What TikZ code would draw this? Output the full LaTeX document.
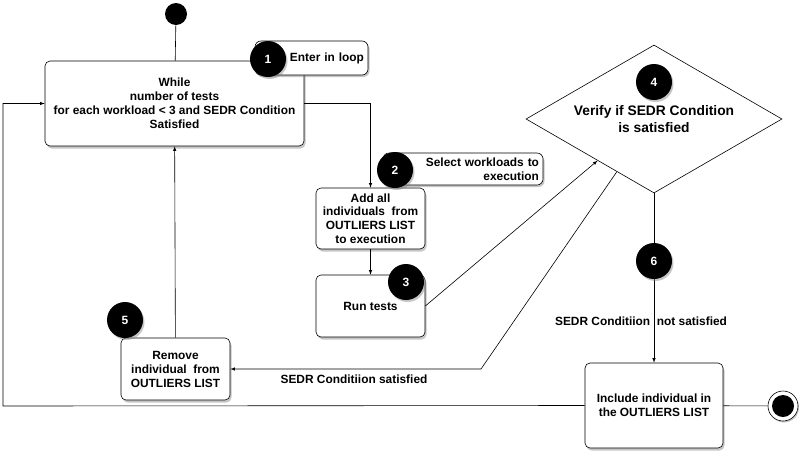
\documentclass[tikz,border=0pt]{standalone}
\usepackage{fontspec}
\setmainfont{Liberation Sans}
\usetikzlibrary{shapes.geometric,shadows,calc}

\begin{document}
\begin{tikzpicture}[->,>=latex,x=1pt,y=-1pt,line width=0.6pt,font=\bfseries\fontsize{11.9}{14}\selectfont]
			\tikzstyle{activity} = [rectangle,draw,fill=white,rounded corners=5pt,align=center,inner sep=2pt,drop shadow={shadow xshift=1.5pt,shadow yshift=-2.5pt,opacity=0.45}]
			\tikzstyle{note} = [rectangle,draw,fill=white,rounded corners=6pt,align=right,inner xsep=4pt,inner ysep=0pt,drop shadow={shadow xshift=1.5pt,shadow yshift=-2pt,opacity=0.45}]
			\tikzstyle{stepmark} = [circle,fill=black,text=white,minimum size=36pt,inner sep=0pt,font=\bfseries\fontsize{12}{14}\selectfont,drop shadow={shadow xshift=1.5pt,shadow yshift=-2pt,opacity=0.45}]
			
			\useasboundingbox (0,0) rectangle (810,464);
			
			\node[circle,fill=black,minimum size=22pt,inner sep=0pt] (start) at (176,14) {};
			\node[activity,minimum width=259pt,minimum height=85pt] (while) at (174.5,103.5) {While\\number of tests\\for each workload < 3 and SEDR Condition\\Satisfied};
			\node[note,text width=105pt,minimum height=34pt] (note1) at (311.5,58) {Enter in loop};
			\node[activity,minimum width=109pt,minimum height=61pt,font=\bfseries\fontsize{11.9}{13.7}\selectfont] (add) at (370.5,218.5) {Add all\\individuals\ \ from\\OUTLIERS LIST\\to execution};
			\node[note,text width=152pt,minimum height=32pt,font=\bfseries\fontsize{11.9}{13.5}\selectfont] (note2) at (463,169) {Select workloads to\\execution};
			\node[activity,minimum width=109pt,minimum height=62pt] (run) at (370.5,306) {Run tests};
			\node[diamond,aspect=1.73,draw,fill=white,minimum width=256pt,minimum height=148pt,inner sep=0pt,font=\bfseries\fontsize{13.8}{17}\selectfont,align=center] (dia) at (654,119) {Verify if SEDR Condition\\is satisfied};
			\node[activity,minimum width=109pt,minimum height=62pt] (remove) at (175.5,369) {Remove\\individual\ \ from\\OUTLIERS LIST};
			\node[activity,minimum width=138pt,minimum height=85pt] (include) at (654,405.5) {Include individual in\\the OUTLIERS LIST};
			\node[circle,draw,fill=white,minimum size=30pt,inner sep=0pt,drop shadow={shadow xshift=1pt,shadow yshift=-1.5pt,opacity=0.45}] (finish) at (783,406) {};
			\node[circle,fill=black,minimum size=22pt,inner sep=0pt] (finishdot) at (finish) {};
			
			\coordinate (sat) at (481,369);
			\coordinate (back) at (3,406);
			
			\path (start) edge[-] (while);
			\draw (while.east) -| (add.north);
			\path (add) edge (run);
			\path (run.east) edge ($(dia.west)!0.56!(dia.south)$);
			\draw ($(dia.west)!0.71!(dia.south)$) -- (sat) -- (remove.east);
			\path (dia.south) edge (include.north);
			\draw (include.west) -- (back) |- (while.west);
			\path (remove) edge (while);
			\path (include) edge[-] (finish);
			
			\node (satlabel) at (354,379) {SEDR Conditiion satisfied};
			\node (notlabel) at (641,321) {SEDR Conditiion\ \ not satisfied};
			
			\node[stepmark] (s1) at (268,59) {1};
			\node[stepmark] (s2) at (395,170) {2};
			\node[stepmark] (s3) at (406,282) {3};
			\node[stepmark] (s4) at (654,82) {4};
			\node[stepmark] (s5) at (125,320) {5};
			\node[stepmark] (s6) at (654,261) {6};
		\end{tikzpicture}
\end{document}
